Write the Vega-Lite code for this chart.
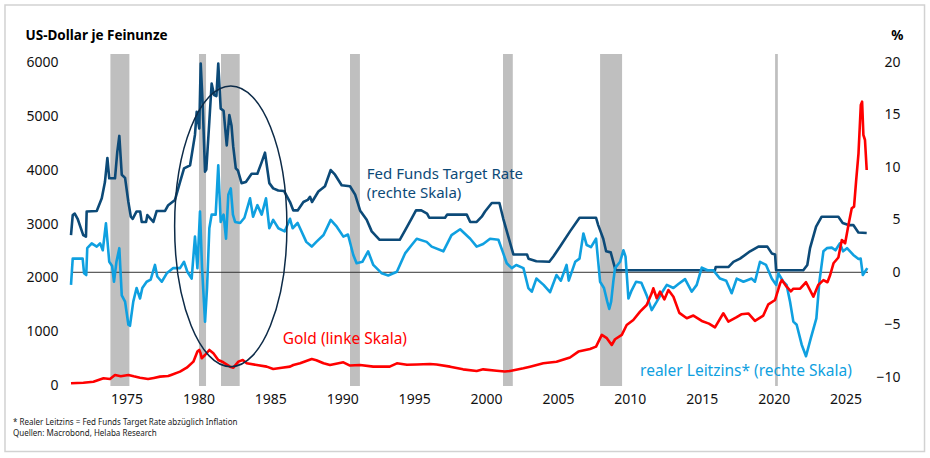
{
  "$schema": "https://vega.github.io/schema/vega-lite/v6.json",
  "width": 797,
  "height": 332,
  "autosize": "none",
  "padding": {"left": 71, "top": 54, "right": 62, "bottom": 72},
  "background": "white",
  "config": {
    "view": {"stroke": null},
    "font": "Noto Sans",
    "axis": {"grid": false, "ticks": false, "domain": false, "labelFontSize": 14, "labelColor": "#111111", "titleColor": "#000000"}
  },
  "title": {
    "text": ["* Realer Leitzins = Fed Funds Target Rate abzüglich Inflation", "\u00a0Quellen: Macrobond, Helaba Research"],
    "orient": "bottom",
    "anchor": "start",
    "frame": "group",
    "dx": -58,
    "offset": -33.5,
    "fontSize": 8,
    "fontWeight": "normal",
    "color": "#1a1a1a",
    "lineHeight": 11
  },
  "datasets": {
    "rec": [
      {"start": 1973.88, "end": 1975.2},
      {"start": 1980.04, "end": 1980.53},
      {"start": 1981.57, "end": 1982.87},
      {"start": 1990.54, "end": 1991.23},
      {"start": 2001.18, "end": 2001.86},
      {"start": 2007.93, "end": 2009.46},
      {"start": 2020.1, "end": 2020.29}
    ],
    "fed": [
      {"year": 1971.14, "rate": 3.55}, {"year": 1971.26, "rate": 5.46}, {"year": 1971.4, "rate": 5.6}, {"year": 1971.6, "rate": 5.1},
      {"year": 1971.99, "rate": 3.55}, {"year": 1972.18, "rate": 3.4}, {"year": 1972.23, "rate": 5.8}, {"year": 1972.93, "rate": 5.85},
      {"year": 1973.28, "rate": 7.05}, {"year": 1973.5, "rate": 8.6}, {"year": 1973.67, "rate": 10.9}, {"year": 1973.8, "rate": 8.96},
      {"year": 1974.2, "rate": 8.96}, {"year": 1974.36, "rate": 11.5}, {"year": 1974.5, "rate": 13.0}, {"year": 1974.67, "rate": 9.3},
      {"year": 1974.9, "rate": 9.0}, {"year": 1975.13, "rate": 6.7}, {"year": 1975.3, "rate": 5.3}, {"year": 1975.43, "rate": 5.1},
      {"year": 1975.7, "rate": 5.8}, {"year": 1975.95, "rate": 5.8}, {"year": 1976.06, "rate": 4.8}, {"year": 1976.36, "rate": 4.8},
      {"year": 1976.45, "rate": 5.46}, {"year": 1976.68, "rate": 5.1}, {"year": 1976.87, "rate": 4.8}, {"year": 1977.1, "rate": 5.85},
      {"year": 1977.68, "rate": 5.85}, {"year": 1977.9, "rate": 6.4}, {"year": 1978.37, "rate": 6.9}, {"year": 1978.72, "rate": 8.6},
      {"year": 1979.0, "rate": 9.9}, {"year": 1979.42, "rate": 10.2}, {"year": 1979.76, "rate": 13.1}, {"year": 1979.88, "rate": 15.3},
      {"year": 1980.06, "rate": 13.7}, {"year": 1980.16, "rate": 19.9}, {"year": 1980.3, "rate": 15.9}, {"year": 1980.46, "rate": 9.6},
      {"year": 1980.55, "rate": 9.8}, {"year": 1980.76, "rate": 14.4}, {"year": 1980.92, "rate": 18.0}, {"year": 1981.09, "rate": 16.9},
      {"year": 1981.25, "rate": 16.8}, {"year": 1981.38, "rate": 19.9}, {"year": 1981.55, "rate": 15.6}, {"year": 1981.75, "rate": 15.4},
      {"year": 1981.97, "rate": 12.1}, {"year": 1982.15, "rate": 15.0}, {"year": 1982.3, "rate": 14.0}, {"year": 1982.42, "rate": 12.0},
      {"year": 1982.6, "rate": 9.9}, {"year": 1982.75, "rate": 9.7}, {"year": 1983.0, "rate": 8.5}, {"year": 1983.3, "rate": 8.6},
      {"year": 1983.7, "rate": 9.4}, {"year": 1984.1, "rate": 9.4}, {"year": 1984.4, "rate": 10.5}, {"year": 1984.63, "rate": 11.4},
      {"year": 1984.93, "rate": 8.5}, {"year": 1985.2, "rate": 8.0}, {"year": 1985.55, "rate": 7.8}, {"year": 1985.95, "rate": 7.75},
      {"year": 1986.37, "rate": 6.7}, {"year": 1986.6, "rate": 5.9}, {"year": 1986.9, "rate": 5.9}, {"year": 1987.3, "rate": 6.7},
      {"year": 1987.6, "rate": 6.9}, {"year": 1987.76, "rate": 7.2}, {"year": 1987.9, "rate": 6.7}, {"year": 1988.34, "rate": 7.7},
      {"year": 1988.8, "rate": 8.2}, {"year": 1989.2, "rate": 9.75}, {"year": 1989.5, "rate": 9.3}, {"year": 1989.96, "rate": 8.3},
      {"year": 1990.54, "rate": 8.2}, {"year": 1990.9, "rate": 7.4}, {"year": 1991.24, "rate": 5.9}, {"year": 1991.7, "rate": 5.0},
      {"year": 1992.05, "rate": 3.9}, {"year": 1992.6, "rate": 3.1}, {"year": 1994.0, "rate": 3.1}, {"year": 1994.37, "rate": 4.0},
      {"year": 1994.83, "rate": 5.15}, {"year": 1995.13, "rate": 5.9}, {"year": 1995.5, "rate": 5.9}, {"year": 1995.9, "rate": 5.6},
      {"year": 1996.05, "rate": 5.2}, {"year": 1997.15, "rate": 5.2}, {"year": 1997.3, "rate": 5.5}, {"year": 1998.66, "rate": 5.5},
      {"year": 1998.9, "rate": 4.8}, {"year": 1999.35, "rate": 4.8}, {"year": 1999.7, "rate": 5.3}, {"year": 1999.93, "rate": 5.8},
      {"year": 2000.4, "rate": 6.6}, {"year": 2000.93, "rate": 6.6}, {"year": 2001.2, "rate": 5.1}, {"year": 2001.55, "rate": 3.4},
      {"year": 2001.9, "rate": 1.7}, {"year": 2002.85, "rate": 1.7}, {"year": 2002.95, "rate": 1.3}, {"year": 2003.5, "rate": 1.05},
      {"year": 2004.4, "rate": 1.0}, {"year": 2004.68, "rate": 1.5}, {"year": 2005.15, "rate": 2.45}, {"year": 2005.84, "rate": 3.9},
      {"year": 2006.5, "rate": 5.2}, {"year": 2007.65, "rate": 5.2}, {"year": 2007.8, "rate": 4.5}, {"year": 2008.15, "rate": 3.2},
      {"year": 2008.35, "rate": 2.0}, {"year": 2008.67, "rate": 1.9}, {"year": 2008.97, "rate": 0.38}, {"year": 2009.05, "rate": 0.2},
      {"year": 2015.92, "rate": 0.2}, {"year": 2015.97, "rate": 0.5}, {"year": 2016.85, "rate": 0.5}, {"year": 2017.2, "rate": 1.0},
      {"year": 2017.66, "rate": 1.3}, {"year": 2018.36, "rate": 2.0}, {"year": 2018.94, "rate": 2.45}, {"year": 2019.56, "rate": 2.45},
      {"year": 2019.87, "rate": 1.8}, {"year": 2020.1, "rate": 1.7}, {"year": 2020.17, "rate": 0.2}, {"year": 2022.06, "rate": 0.2},
      {"year": 2022.34, "rate": 0.7}, {"year": 2022.53, "rate": 2.3}, {"year": 2022.95, "rate": 4.35}, {"year": 2023.34, "rate": 5.3},
      {"year": 2024.5, "rate": 5.3}, {"year": 2024.8, "rate": 4.7}, {"year": 2025.2, "rate": 4.5}, {"year": 2025.54, "rate": 4.5},
      {"year": 2025.89, "rate": 3.8}, {"year": 2026.47, "rate": 3.75}
    ],
    "real": [
      {"year": 1971.14, "rate": -1.2}, {"year": 1971.26, "rate": 1.3}, {"year": 1971.95, "rate": 1.3}, {"year": 1972.05, "rate": -0.1},
      {"year": 1972.2, "rate": -0.26}, {"year": 1972.27, "rate": 2.3}, {"year": 1972.58, "rate": 2.76}, {"year": 1972.93, "rate": 2.45},
      {"year": 1973.16, "rate": 2.76}, {"year": 1973.35, "rate": 2.1}, {"year": 1973.57, "rate": 4.67}, {"year": 1973.8, "rate": 1.0},
      {"year": 1974.0, "rate": 0.6}, {"year": 1974.13, "rate": -0.9}, {"year": 1974.3, "rate": 1.0}, {"year": 1974.5, "rate": 2.3},
      {"year": 1974.67, "rate": -2.2}, {"year": 1974.9, "rate": -2.8}, {"year": 1975.13, "rate": -5.0}, {"year": 1975.24, "rate": -5.1},
      {"year": 1975.47, "rate": -2.8}, {"year": 1975.7, "rate": -1.5}, {"year": 1975.94, "rate": -2.5}, {"year": 1976.1, "rate": -1.5},
      {"year": 1976.4, "rate": -0.9}, {"year": 1976.68, "rate": -0.7}, {"year": 1976.98, "rate": 0.7}, {"year": 1977.14, "rate": -0.4},
      {"year": 1977.45, "rate": -0.9}, {"year": 1977.8, "rate": -0.1}, {"year": 1978.25, "rate": 0.4}, {"year": 1978.72, "rate": 0.4},
      {"year": 1979.0, "rate": 1.0}, {"year": 1979.23, "rate": 0.05}, {"year": 1979.53, "rate": -0.6}, {"year": 1979.76, "rate": 3.4},
      {"year": 1979.93, "rate": 0.4}, {"year": 1980.11, "rate": 5.8}, {"year": 1980.25, "rate": 0.5}, {"year": 1980.46, "rate": -4.7},
      {"year": 1980.6, "rate": -1.5}, {"year": 1980.76, "rate": 4.2}, {"year": 1980.92, "rate": 5.5}, {"year": 1981.2, "rate": 5.5},
      {"year": 1981.38, "rate": 10.2}, {"year": 1981.55, "rate": 4.8}, {"year": 1981.75, "rate": 5.5}, {"year": 1981.92, "rate": 3.2},
      {"year": 1982.08, "rate": 7.4}, {"year": 1982.25, "rate": 8.0}, {"year": 1982.4, "rate": 5.5}, {"year": 1982.55, "rate": 4.8},
      {"year": 1982.9, "rate": 4.7}, {"year": 1983.2, "rate": 5.2}, {"year": 1983.59, "rate": 7.05}, {"year": 1983.8, "rate": 5.3},
      {"year": 1984.1, "rate": 6.4}, {"year": 1984.4, "rate": 5.5}, {"year": 1984.7, "rate": 7.05}, {"year": 1984.93, "rate": 4.2},
      {"year": 1985.2, "rate": 5.0}, {"year": 1985.56, "rate": 4.2}, {"year": 1986.0, "rate": 3.9}, {"year": 1986.37, "rate": 5.1},
      {"year": 1986.55, "rate": 4.2}, {"year": 1986.9, "rate": 4.7}, {"year": 1987.5, "rate": 2.9}, {"year": 1987.88, "rate": 2.45},
      {"year": 1988.2, "rate": 2.9}, {"year": 1988.7, "rate": 3.55}, {"year": 1989.2, "rate": 5.0}, {"year": 1989.62, "rate": 4.35},
      {"year": 1990.08, "rate": 3.4}, {"year": 1990.4, "rate": 3.6}, {"year": 1990.77, "rate": 1.65}, {"year": 1991.0, "rate": 0.86},
      {"year": 1991.4, "rate": 1.0}, {"year": 1991.8, "rate": 2.0}, {"year": 1992.16, "rate": 0.7}, {"year": 1992.75, "rate": -0.1},
      {"year": 1993.2, "rate": -0.3}, {"year": 1993.8, "rate": 0.05}, {"year": 1994.37, "rate": 1.8}, {"year": 1994.83, "rate": 2.6},
      {"year": 1995.18, "rate": 3.2}, {"year": 1995.87, "rate": 2.9}, {"year": 1996.22, "rate": 2.45}, {"year": 1997.03, "rate": 2.0},
      {"year": 1997.6, "rate": 3.55}, {"year": 1998.2, "rate": 4.1}, {"year": 1998.9, "rate": 3.2}, {"year": 1999.35, "rate": 2.45},
      {"year": 1999.8, "rate": 2.7}, {"year": 2000.28, "rate": 3.2}, {"year": 2000.86, "rate": 3.1}, {"year": 2001.2, "rate": 1.8},
      {"year": 2001.44, "rate": 0.86}, {"year": 2001.79, "rate": 0.4}, {"year": 2002.1, "rate": 0.7}, {"year": 2002.6, "rate": 0.4},
      {"year": 2002.94, "rate": -1.5}, {"year": 2003.18, "rate": -1.85}, {"year": 2003.5, "rate": -0.6}, {"year": 2004.0, "rate": -1.2},
      {"year": 2004.45, "rate": -1.9}, {"year": 2004.9, "rate": -0.26}, {"year": 2005.2, "rate": -0.8}, {"year": 2005.6, "rate": 0.7},
      {"year": 2005.75, "rate": -0.8}, {"year": 2006.2, "rate": 1.0}, {"year": 2006.5, "rate": 1.3}, {"year": 2006.77, "rate": 3.7},
      {"year": 2007.0, "rate": 2.6}, {"year": 2007.3, "rate": 2.4}, {"year": 2007.65, "rate": 3.2}, {"year": 2007.93, "rate": -0.9},
      {"year": 2008.2, "rate": -1.5}, {"year": 2008.43, "rate": -2.8}, {"year": 2008.57, "rate": -3.5}, {"year": 2008.7, "rate": -2.8},
      {"year": 2008.85, "rate": -0.9}, {"year": 2008.97, "rate": 0.4}, {"year": 2009.32, "rate": 1.0}, {"year": 2009.55, "rate": 2.1},
      {"year": 2009.7, "rate": 1.5}, {"year": 2009.9, "rate": -2.5}, {"year": 2010.1, "rate": -1.8}, {"year": 2010.43, "rate": -0.9},
      {"year": 2010.8, "rate": -1.0}, {"year": 2011.17, "rate": -2.2}, {"year": 2011.52, "rate": -3.6}, {"year": 2011.87, "rate": -2.8},
      {"year": 2012.2, "rate": -2.0}, {"year": 2012.57, "rate": -1.2}, {"year": 2013.03, "rate": -1.5}, {"year": 2013.4, "rate": -1.1},
      {"year": 2013.84, "rate": -0.65}, {"year": 2014.3, "rate": -1.85}, {"year": 2014.65, "rate": -1.2}, {"year": 2015.0, "rate": 0.45},
      {"year": 2015.4, "rate": 0.2}, {"year": 2015.8, "rate": 0.2}, {"year": 2016.27, "rate": -0.6}, {"year": 2016.7, "rate": -0.8},
      {"year": 2017.08, "rate": -2.0}, {"year": 2017.43, "rate": -0.6}, {"year": 2017.9, "rate": -0.9}, {"year": 2018.47, "rate": -0.6},
      {"year": 2018.7, "rate": -0.9}, {"year": 2019.05, "rate": 1.0}, {"year": 2019.47, "rate": 0.7}, {"year": 2019.87, "rate": -0.6},
      {"year": 2020.17, "rate": -1.2}, {"year": 2020.33, "rate": -0.1}, {"year": 2020.67, "rate": -0.9}, {"year": 2020.9, "rate": -1.2},
      {"year": 2021.14, "rate": -2.8}, {"year": 2021.37, "rate": -4.7}, {"year": 2021.6, "rate": -5.0}, {"year": 2021.95, "rate": -6.9},
      {"year": 2022.25, "rate": -8.0}, {"year": 2022.58, "rate": -6.3}, {"year": 2022.97, "rate": -4.4}, {"year": 2023.18, "rate": -0.9},
      {"year": 2023.46, "rate": 2.0}, {"year": 2023.7, "rate": 2.3}, {"year": 2024.04, "rate": 2.35}, {"year": 2024.3, "rate": 2.1},
      {"year": 2024.6, "rate": 2.76}, {"year": 2024.83, "rate": 2.0}, {"year": 2025.1, "rate": 2.3}, {"year": 2025.54, "rate": 1.65},
      {"year": 2025.9, "rate": 1.27}, {"year": 2026.05, "rate": 1.3}, {"year": 2026.2, "rate": -0.26}, {"year": 2026.35, "rate": 0.05},
      {"year": 2026.51, "rate": 0.4}
    ],
    "gold": [
      {"year": 1971.14, "usd": 40}, {"year": 1972.0, "usd": 50}, {"year": 1972.7, "usd": 70}, {"year": 1973.4, "usd": 134},
      {"year": 1973.85, "usd": 120}, {"year": 1974.2, "usd": 195}, {"year": 1974.6, "usd": 170}, {"year": 1975.13, "usd": 195},
      {"year": 1975.5, "usd": 170}, {"year": 1975.94, "usd": 145}, {"year": 1976.5, "usd": 120}, {"year": 1976.9, "usd": 140},
      {"year": 1977.33, "usd": 164}, {"year": 1977.9, "usd": 175}, {"year": 1978.1, "usd": 195}, {"year": 1978.72, "usd": 257},
      {"year": 1979.19, "usd": 331}, {"year": 1979.65, "usd": 443}, {"year": 1979.93, "usd": 630}, {"year": 1980.06, "usd": 660},
      {"year": 1980.15, "usd": 600}, {"year": 1980.23, "usd": 506}, {"year": 1980.46, "usd": 567}, {"year": 1980.76, "usd": 660},
      {"year": 1981.04, "usd": 598}, {"year": 1981.38, "usd": 474}, {"year": 1981.73, "usd": 431}, {"year": 1982.2, "usd": 350},
      {"year": 1982.43, "usd": 331}, {"year": 1982.78, "usd": 443}, {"year": 1983.08, "usd": 474}, {"year": 1983.36, "usd": 412},
      {"year": 1984.06, "usd": 381}, {"year": 1984.75, "usd": 350}, {"year": 1985.2, "usd": 307}, {"year": 1985.8, "usd": 330},
      {"year": 1986.37, "usd": 350}, {"year": 1986.6, "usd": 381}, {"year": 1987.07, "usd": 412}, {"year": 1987.88, "usd": 493},
      {"year": 1988.2, "usd": 470}, {"year": 1988.7, "usd": 412}, {"year": 1989.15, "usd": 381}, {"year": 1990.08, "usd": 431},
      {"year": 1990.54, "usd": 370}, {"year": 1991.24, "usd": 381}, {"year": 1992.16, "usd": 350}, {"year": 1993.3, "usd": 350},
      {"year": 1993.8, "usd": 412}, {"year": 1994.5, "usd": 385}, {"year": 1995.18, "usd": 390}, {"year": 1996.1, "usd": 400},
      {"year": 1996.56, "usd": 390}, {"year": 1997.5, "usd": 350}, {"year": 1998.4, "usd": 300}, {"year": 1999.35, "usd": 270},
      {"year": 1999.8, "usd": 300}, {"year": 2000.74, "usd": 275}, {"year": 2001.3, "usd": 260}, {"year": 2001.67, "usd": 270},
      {"year": 2002.6, "usd": 320}, {"year": 2003.06, "usd": 350}, {"year": 2003.98, "usd": 412}, {"year": 2004.9, "usd": 440},
      {"year": 2005.84, "usd": 520}, {"year": 2006.42, "usd": 630}, {"year": 2007.23, "usd": 680}, {"year": 2007.65, "usd": 722},
      {"year": 2008.05, "usd": 940}, {"year": 2008.4, "usd": 880}, {"year": 2008.74, "usd": 753}, {"year": 2008.97, "usd": 860},
      {"year": 2009.44, "usd": 940}, {"year": 2009.78, "usd": 1125}, {"year": 2010.24, "usd": 1218}, {"year": 2010.71, "usd": 1373},
      {"year": 2011.17, "usd": 1497}, {"year": 2011.52, "usd": 1715}, {"year": 2011.63, "usd": 1808}, {"year": 2011.87, "usd": 1622},
      {"year": 2012.1, "usd": 1745}, {"year": 2012.4, "usd": 1600}, {"year": 2012.68, "usd": 1776}, {"year": 2013.03, "usd": 1650},
      {"year": 2013.44, "usd": 1350}, {"year": 2013.96, "usd": 1250}, {"year": 2014.42, "usd": 1300}, {"year": 2015.0, "usd": 1200},
      {"year": 2015.5, "usd": 1150}, {"year": 2015.92, "usd": 1080}, {"year": 2016.5, "usd": 1343}, {"year": 2016.85, "usd": 1187},
      {"year": 2017.43, "usd": 1270}, {"year": 2017.75, "usd": 1324}, {"year": 2018.24, "usd": 1340}, {"year": 2018.7, "usd": 1200},
      {"year": 2019.28, "usd": 1300}, {"year": 2019.63, "usd": 1510}, {"year": 2020.1, "usd": 1590}, {"year": 2020.45, "usd": 1900},
      {"year": 2020.57, "usd": 1962}, {"year": 2020.9, "usd": 1838}, {"year": 2021.2, "usd": 1750}, {"year": 2021.37, "usd": 1800},
      {"year": 2021.84, "usd": 1800}, {"year": 2022.25, "usd": 1920}, {"year": 2022.76, "usd": 1652}, {"year": 2023.1, "usd": 1869},
      {"year": 2023.46, "usd": 1960}, {"year": 2023.74, "usd": 1920}, {"year": 2023.93, "usd": 2055}, {"year": 2024.16, "usd": 2273},
      {"year": 2024.5, "usd": 2380}, {"year": 2024.74, "usd": 2706}, {"year": 2024.97, "usd": 2645}, {"year": 2025.2, "usd": 2985},
      {"year": 2025.43, "usd": 3296}, {"year": 2025.59, "usd": 3326}, {"year": 2025.73, "usd": 3791}, {"year": 2025.9, "usd": 4319},
      {"year": 2026.06, "usd": 5217}, {"year": 2026.15, "usd": 5279}, {"year": 2026.24, "usd": 4659}, {"year": 2026.35, "usd": 4566},
      {"year": 2026.47, "usd": 4008}
    ]
  },
  "layer": [
    {
      "layer": [
        {
          "data": {"name": "rec"},
          "mark": {"type": "rect", "color": "#bfbfbf"},
          "encoding": {
            "x": {"field": "start", "type": "quantitative", "scale": {"domain": [1971.14, 2026.56], "nice": false, "zero": false}},
            "x2": {"field": "end"}
          }
        },
        {
          "data": {"values": [{}]},
          "mark": {"type": "rule", "color": "#333333", "strokeWidth": 1},
          "encoding": {"y": {"datum": 0}}
        },
        {
          "data": {"name": "fed"},
          "mark": {"type": "line", "color": "#0c4a78", "strokeWidth": 2.6, "strokeJoin": "round"},
          "encoding": {
            "x": {
              "field": "year", "type": "quantitative",
              "scale": {"domain": [1971.14, 2026.56], "nice": false, "zero": false},
              "axis": {"values": [1975, 1980, 1985, 1990, 1995, 2000, 2005, 2010, 2015, 2020, 2025], "format": "d", "title": null, "labelPadding": 6}
            },
            "y": {
              "field": "rate", "type": "quantitative",
              "scale": {"domain": [-10.84, 20.81], "nice": false, "zero": false},
              "axis": {
                "orient": "right", "values": [-10, -5, 0, 5, 10, 15, 20], "labelAlign": "right", "labelPadding": 32,
                "title": "%", "titleAngle": 0, "titleAlign": "right", "titleBaseline": "middle", "titleX": 35, "titleY": -19,
                "titleFontSize": 13.5, "titleFontWeight": "bold"
              }
            }
          }
        },
        {
          "data": {"name": "real"},
          "mark": {"type": "line", "color": "#0fa0e0", "strokeWidth": 2.6, "strokeJoin": "round"},
          "encoding": {
            "x": {"field": "year", "type": "quantitative"},
            "y": {"field": "rate", "type": "quantitative"}
          }
        },
        {
          "data": {"values": [{}]},
          "mark": {"type": "text", "text": ["Fed Funds Target Rate", "\u00a0(rechte Skala)"], "lineHeight": 18.3, "align": "left", "baseline": "middle", "fontSize": 15, "color": "#0c4a78"},
          "encoding": {"x": {"datum": 1991.71}, "y": {"datum": 9.35}}
        },
        {
          "data": {"values": [{}]},
          "mark": {"type": "text", "text": "realer Leitzins* (rechte Skala)", "align": "left", "baseline": "middle", "fontSize": 15.5, "color": "#0fa0e0"},
          "encoding": {"x": {"datum": 2010.71}, "y": {"datum": -9.38}}
        }
      ]
    },
    {
      "layer": [
        {
          "data": {"name": "gold"},
          "mark": {"type": "line", "color": "#ff0000", "strokeWidth": 2.6, "strokeJoin": "round"},
          "encoding": {
            "x": {"field": "year", "type": "quantitative"},
            "y": {
              "field": "usd", "type": "quantitative",
              "scale": {"domain": [-10, 6166], "nice": false, "zero": false},
              "axis": {
                "orient": "left", "values": [0, 1000, 2000, 3000, 4000, 5000, 6000], "format": "d", "labelPadding": 13,
                "title": "US-Dollar je Feinunze", "titleAngle": 0, "titleAlign": "left", "titleBaseline": "middle",
                "titleX": -46, "titleY": -19, "titleFontSize": 13.5, "titleFontWeight": "bold"
              }
            }
          }
        },
        {
          "data": {"values": [{}]},
          "mark": {
            "type": "point", "filled": false, "opacity": 1, "stroke": "#0d2b48", "strokeWidth": 1.5, "size": 78800,
            "shape": "M 0 -1 C 0.2209 -1 0.4 -0.5523 0.4 0 C 0.4 0.5523 0.2209 1 0 1 C -0.2209 1 -0.4 0.5523 -0.4 0 C -0.4 -0.5523 -0.2209 -1 0 -1 Z"
          },
          "encoding": {"x": {"datum": 1982.25}, "y": {"datum": 2961}}
        },
        {
          "data": {"values": [{}]},
          "mark": {"type": "text", "text": "Gold (linke Skala)", "align": "left", "baseline": "middle", "fontSize": 15.5, "color": "#ff0000"},
          "encoding": {"x": {"datum": 1985.86}, "y": {"datum": 865}}
        },
        {
          "data": {"values": [{}]},
          "mark": {"type": "rect", "fillOpacity": 0, "stroke": "#d2d2d2", "strokeWidth": 1.5},
          "encoding": {
            "x": {"datum": 1966.55}, "x2": {"datum": 2030.49},
            "y": {"datum": 7078}, "y2": {"datum": -1228}
          }
        }
      ]
    }
  ],
  "resolve": {"scale": {"y": "independent"}}
}
